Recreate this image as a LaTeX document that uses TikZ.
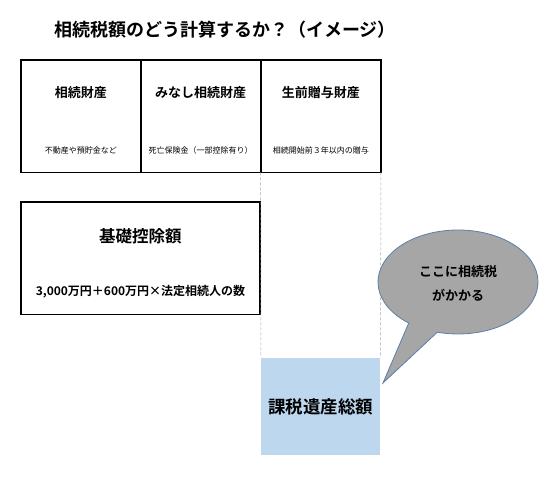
\documentclass[tikz,border=0pt]{standalone}
\usepackage{fontspec}
\setmainfont{Noto Sans CJK JP}[BoldFont={* Bold}]
\usetikzlibrary{calc}
\definecolor{ltblue}{HTML}{BDD7EE}
\definecolor{callgray}{HTML}{A6A6A6}
\definecolor{callblue}{HTML}{5B7FA6}
\begin{document}
\begin{tikzpicture}[x=1pt,y=1pt,
  frame/.style={draw=black,line width=1.8pt},
  guide/.style={draw=gray!70,densely dashed,line width=0.5pt},
  lbl/.style={font=\bfseries\fontsize{13}{15}\selectfont,inner sep=0},
  sub/.style={font=\fontsize{8}{10}\selectfont,inner sep=0},
]
\useasboundingbox (0,0) rectangle (550,479);
% title
\node[inner sep=0,font=\bfseries\fontsize{18}{20}\selectfont] (title) at (225,449) {相続税額のどう計算するか？（イメージ）};
% top row
\coordinate (a1) at (21,419);
\coordinate (a2) at (140.7,306.5);
\coordinate (a3) at (260.7,306.5);
\coordinate (a4) at (381,306.5);
\coordinate (b1) at (140.7,419);
\coordinate (b2) at (260.7,419);
\draw[frame] (a1) rectangle (a2);
\draw[frame] (b1) rectangle (a3);
\draw[frame] (b2) rectangle (a4);
\node[lbl] (s1) at (80.8,386) {相続財産};
\node[lbl] (s2) at (200.7,386) {みなし相続財産};
\node[lbl] (s3) at (320.8,386) {生前贈与財産};
\node[sub] (t1) at (80.8,329) {不動産や預貯金など};
\node[sub] (t2) at (200.7,329) {死亡保険金（一部控除有り）};
\node[sub] (t3) at (320.8,329) {相続開始前３年以内の贈与};
% basic deduction
\coordinate (c1) at (21,277);
\coordinate (c2) at (260,164.5);
\draw[frame] (c1) rectangle (c2);
\node[inner sep=0,font=\bfseries\fontsize{16.5}{19}\selectfont] (k1) at (140.5,243) {基礎控除額};
\node[inner sep=0,font=\bfseries\fontsize{12}{14}\selectfont] (k2) at (140.5,187) {3,000万円＋600万円×法定相続人の数};
% taxable
\node[fill=ltblue,draw=none,minimum width=119pt,minimum height=97pt,inner sep=0,anchor=north west] (tx) at (261,121.3) {};
\node[inner sep=0,font=\bfseries\fontsize{17.5}{19}\selectfont] (txl) at (320.5,72) {課税遺産総額};
% guides
\draw[guide] (a3) -- (tx.north west);
\draw[guide] (a4) -- (tx.north east);
% callout
\coordinate (tip) at (383,96);
\coordinate (ec) at (458,197);
\filldraw[fill=callgray,draw=callblue,line width=0.8pt]
  (tip) -- ($(ec)+(232:80 and 52)$) arc[start angle=232,end angle=-105,x radius=80,y radius=52] -- cycle;
\node[inner sep=0,font=\bfseries\fontsize{13}{15}\selectfont,align=center] (cl) at (458,207) {ここに相続税};
\node[inner sep=0,font=\bfseries\fontsize{13}{15}\selectfont,align=center] (cl2) at (458,184) {がかかる};
\end{tikzpicture}
\end{document}
